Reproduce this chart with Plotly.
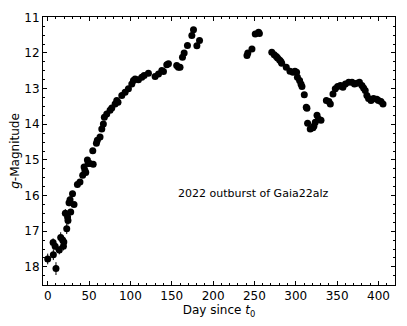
import plotly.graph_objects as go

days = [0, 6.8, 6.5, 10, 9, 14, 15.7, 18, 19, 19.5, 23, 21.3, 24, 24.5, 25.8, 27, 27.8, 30, 31.8,
        35.9, 39, 42.3, 44, 45, 46, 48, 49, 51, 55, 54.5, 58.9, 60, 63.3, 65.4, 67.3, 68.5, 71.4,
        75.4, 77.5, 81.5, 83.5, 85, 89.6, 93.6, 97.6, 101.7, 103.7, 105.7, 109.7, 113.8, 116.6,
        121.8, 129.9, 134, 138, 140, 144, 146, 156, 158, 160, 163, 165, 169, 174.3, 176.3, 180.4,
        183.6, 241, 242, 247, 251, 255, 256, 271, 274, 276.5, 278, 280.4, 282, 283, 288.5, 293,
        296.6, 299, 301, 302, 304.6, 306.3, 307.5, 310.3, 312.7, 313.5, 314.3, 317.5, 320.8, 322,
        323.6, 325.7, 327.5, 330.5, 337, 340, 341.8, 345, 347.8, 350.6, 354, 357, 360, 364, 368,
        371, 374, 377, 380, 382, 384, 386, 388, 391, 394, 398, 400, 403, 405.5]
mags = [17.78, 17.66, 17.32, 18.05, 17.42, 17.53, 17.18, 17.25, 17.42, 17.3, 16.93, 16.5, 16.6,
        16.7, 16.2, 16.12, 16.46, 15.95, 16.25, 15.69, 15.62, 15.43, 15.2, 15.3, 15.35, 15.0, 15.1,
        15.1, 15.12, 14.74, 14.53, 14.45, 14.36, 14.13, 13.99, 13.8, 13.71, 13.61, 13.54, 13.43,
        13.33, 13.38, 13.19, 13.1, 13.0, 12.87, 12.77, 12.73, 12.75, 12.68, 12.63, 12.57, 12.66,
        12.59, 12.49, 12.52, 12.33, 12.3, 12.35, 12.4, 12.4, 12.12, 12.0, 11.79, 11.51, 11.35, 11.8,
        11.65, 12.07, 12.0, 11.89, 11.47, 11.42, 11.45, 11.98, 12.05, 12.1, 12.14, 12.2, 12.24,
        12.29, 12.4, 12.51, 12.54, 12.51, 12.54, 12.68, 12.77, 12.87, 12.94, 13.17, 13.52, 13.55,
        13.97, 14.13, 14.1, 14.05, 13.94, 13.75, 13.85, 13.89, 13.33, 13.36, 13.43, 13.15, 13.0,
        12.94, 12.91, 12.96, 12.87, 12.82, 12.82, 12.87, 12.85, 12.82, 12.91, 12.98, 13.05, 13.19,
        13.28, 13.33, 13.28, 13.3, 13.33, 13.36, 13.43]
errs = [0.15, 0.15, 0.12, 0.18, 0.12, 0.12, 0.15, 0.12, 0.12, 0.12, 0.15, 0.12, 0.12, 0.12,
        0.1, 0.1, 0.08, 0.08, 0.05] + [0.03] * (len(mags) - 19)

x_ticks = [0, 50, 100, 150, 200, 250, 300, 350, 400]
y_ticks = [11, 12, 13, 14, 15, 16, 17, 18]

fig = go.Figure()
fig.add_trace(go.Scatter(
    x=days, y=mags, mode="markers",
    marker=dict(color="black", size=7, line=dict(width=0)),
    error_y=dict(type="data", array=errs, visible=True, color="black", thickness=1, width=0),
    showlegend=False,
))

font = "DejaVu Sans"
fig.add_annotation(x=248.6, y=15.94, text="2022 outburst of Gaia22alz", showarrow=False,
                   font=dict(family=font, size=11, color="black"))

axis_common = dict(showgrid=False, zeroline=False, showline=True, linecolor="black", linewidth=1,
                   mirror="allticks", ticks="inside", ticklen=4, tickcolor="black", tickwidth=1,
                   automargin=False,
                   tickfont=dict(family=font, size=12, color="black"))

fig.update_xaxes(range=[-5.7, 420], tickvals=x_ticks, ticktext=[str(v) for v in x_ticks],
                 minor=dict(dtick=10, tick0=0, ticks="inside", ticklen=2, tickcolor="black", showgrid=False),
                 title=dict(text="Day since <i>t</i><sub>0</sub>", font=dict(family=font, size=12, color="black"),
                            standoff=2),
                 **axis_common)
fig.update_yaxes(range=[18.51, 10.99], tickvals=y_ticks, ticktext=[str(v) for v in y_ticks],
                 minor=dict(dtick=0.25, tick0=11, ticks="inside", ticklen=2, tickcolor="black", showgrid=False),
                 title=dict(text="<i>g</i>-Magnitude", font=dict(family=font, size=12, color="black"),
                            standoff=4),
                 **axis_common)

# page body has an 8px margin, so the figure is 8px smaller and margins are offset
fig.update_layout(width=399, height=318, margin=dict(l=35, r=12, t=9, b=41),
                  plot_bgcolor="white", paper_bgcolor="white")

fig.write_html("out.html")
